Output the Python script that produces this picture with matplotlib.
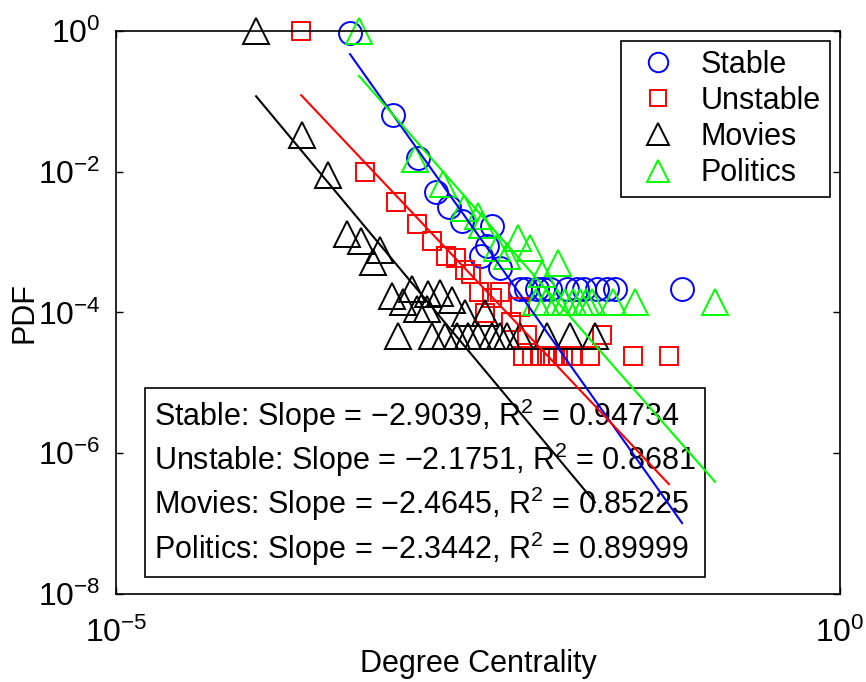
import numpy as np
import matplotlib
matplotlib.use("Agg")
import matplotlib.pyplot as plt
from matplotlib.ticker import LogFormatterSciNotation, NullLocator

plt.rcParams['font.family'] = ['Liberation Sans', 'DejaVu Sans']
plt.rcParams['mathtext.fontset'] = 'custom'
plt.rcParams['mathtext.rm'] = 'Liberation Sans'
plt.rcParams['mathtext.it'] = 'Liberation Sans:italic'
plt.rcParams['mathtext.bf'] = 'Liberation Sans:bold'

# degree centrality / PDF
stable_x = [4.13e-4, 8.18e-4, 1.22e-3, 1.62e-3, 2.0e-3, 2.45e-3, 3.95e-3, 3.65e-3,
            3.32e-3, 4.49e-3, 6.17e-3, 6.78e-3, 8.07e-3, 8.89e-3, 9.93e-3, 1.30e-2,
            1.53e-2, 1.71e-2, 2.10e-2, 2.46e-2, 2.79e-2, 8.11e-2]
stable_y = [0.92, 0.0635, 0.01556, 5.12e-3, 3.13e-3, 1.98e-3, 1.68e-3, 8.75e-4,
            6.3e-4, 4.26e-4, 2.14e-4, 2.14e-4, 2.14e-4, 2.14e-4, 2.14e-4, 2.14e-4,
            2.14e-4, 2.14e-4, 2.14e-4, 2.14e-4, 2.14e-4, 2.14e-4]

unstable_x = [1.90e-4, 5.25e-4, 8.59e-4, 1.20e-3, 1.52e-3, 1.90e-3, 2.23e-3, 2.57e-3,
              2.83e-3, 3.21e-3, 3.95e-3, 4.49e-3, 3.53e-3, 5.35e-3, 6.17e-3, 6.89e-3,
              2.27e-2, 6.47e-3, 7.46e-3, 8.47e-3, 9.48e-3, 1.04e-2, 1.13e-2, 1.22e-2,
              1.43e-2, 1.87e-2, 3.72e-2, 6.59e-2]
unstable_y = [1.0, 9.84e-3, 3.69e-3, 1.80e-3, 1.03e-3, 6.31e-4, 5.90e-4, 3.99e-4,
              3.50e-4, 1.94e-4, 1.60e-4, 1.94e-4, 9.77e-5, 7.28e-5, 1.19e-4, 4.76e-5,
              4.76e-5, 2.39e-5, 2.39e-5, 2.39e-5, 2.39e-5, 2.39e-5, 2.39e-5, 2.39e-5,
              2.39e-5, 2.39e-5, 2.39e-5, 2.39e-5]

movies_x = [9.27e-5, 1.93e-4, 2.91e-4, 3.94e-4, 4.92e-4, 6.65e-4, 5.96e-4, 8.05e-4,
            9.59e-4, 1.11e-3, 1.20e-3, 1.41e-3, 1.43e-3, 1.73e-3, 2.09e-3, 2.57e-3,
            3.53e-3, 8.87e-4, 1.52e-3, 1.87e-3, 2.26e-3, 2.70e-3, 3.16e-3, 3.95e-3,
            4.49e-3, 5.01e-3, 6.17e-3, 9.48e-3, 1.36e-2, 2.03e-2]
movies_y = [1.0, 0.0330, 8.92e-3, 1.29e-3, 1.03e-3, 7.67e-4, 5.18e-4, 1.71e-4,
            1.40e-4, 2.14e-4, 1.11e-4, 1.11e-4, 1.82e-4, 1.88e-4, 1.50e-4, 9.77e-5,
            9.77e-5, 4.60e-5, 4.60e-5, 4.60e-5, 4.60e-5, 4.60e-5, 4.60e-5, 4.60e-5,
            4.60e-5, 4.60e-5, 4.60e-5, 4.60e-5, 4.60e-5, 4.60e-5]

politics_x = [4.76e-4, 1.16e-3, 1.81e-3, 2.53e-3, 3.16e-3, 3.37e-3, 4.28e-3, 5.01e-3,
              5.97e-3, 7.23e-3, 8.75e-3, 1.13e-2, 7.96e-3, 9.33e-3, 1.11e-2, 1.26e-2,
              1.43e-2, 1.60e-2, 1.76e-2, 1.94e-2, 2.70e-2, 3.84e-2, 0.137]
politics_y = [1.0, 1.51e-2, 6.64e-3, 3.03e-3, 2.33e-3, 1.74e-3, 8.19e-4, 6.31e-4,
              1.14e-3, 8.19e-4, 3.50e-4, 5.01e-4, 1.40e-4, 1.40e-4, 1.40e-4, 1.40e-4,
              1.40e-4, 1.40e-4, 1.40e-4, 1.40e-4, 1.40e-4, 1.40e-4, 1.40e-4]

# power-law fits: log10(y) = slope*log10(x) + intercept
slopes = [-2.9039, -2.1751, -2.4645, -2.3442]
intercepts = [-10.16, -9.01, -10.87, -8.43]
r2 = ['0.94734', '0.8681', '0.85225', '0.89999']
names = ['Stable', 'Unstable', 'Movies', 'Politics']

colors = ['#0000ff', '#ff0000', '#000000', '#00ff00']
markers = ['o', 's', '^', '^']
msizes = [16.5, 13, 19, 19]
xs = [stable_x, unstable_x, movies_x, politics_x]
ys = [stable_y, unstable_y, movies_y, politics_y]

fig = plt.figure(figsize=(8.66, 6.82), dpi=100)
ax = fig.add_axes([0.134, 0.129, 0.836, 0.826])

for x, y, c, m, ms, n in zip(xs, ys, colors, markers, msizes, names):
    ax.plot(x, y, linestyle='none', marker=m, markersize=ms, markerfacecolor='none',
            markeredgecolor=c, markeredgewidth=1.4, label=n, clip_on=False)

for x, s, b, c in zip(xs, slopes, intercepts, colors):
    lx = np.array([min(x), max(x)])
    ax.plot(lx, 10 ** (s * np.log10(lx) + b), color=c, lw=1.5, zorder=5)

ax.set_xscale('log')
ax.set_yscale('log')
ax.set_xlim(1e-5, 1)
ax.set_ylim(1e-8, 1)
ax.set_xticks([1e-5, 1])
ax.set_yticks([1e-8, 1e-6, 1e-4, 1e-2, 1])
ax.xaxis.set_minor_locator(NullLocator())
ax.yaxis.set_minor_locator(NullLocator())
ax.xaxis.set_major_formatter(LogFormatterSciNotation())
ax.yaxis.set_major_formatter(LogFormatterSciNotation())
ax.tick_params(direction='in', length=5, width=1, labelsize=23, top=True, right=True)
ax.tick_params(axis='x', pad=17)
ax.tick_params(axis='y', pad=11)
for sp in ax.spines.values():
    sp.set_linewidth(1.2)

ax.set_xlabel('Degree Centrality', fontsize=22)
ax.xaxis.set_label_coords(0.5, -0.097)
ax.set_ylabel('PDF', fontsize=22, labelpad=-1)

leg = ax.legend(loc='upper right', fontsize=22, frameon=True, fancybox=False,
                edgecolor='black', framealpha=1, borderaxespad=0.33, borderpad=0.3,
                labelspacing=0.2, handlelength=1.8, handletextpad=0.5, markerscale=0.85)
leg.get_frame().set_linewidth(1.2)

lines = [f'{n}: Slope = \u2212{abs(s):.4f}, R$^2$ = {r}'
         for n, s, r in zip(names, slopes, r2)]
ax.text(0.052, 0.047, '\n'.join(lines), transform=ax.transAxes, fontsize=22,
        ha='left', va='bottom', linespacing=1.2, zorder=3,
        bbox=dict(boxstyle='square,pad=0.3', facecolor='white', edgecolor='black', lw=1.2))

fig.savefig('out.png', dpi=100)
